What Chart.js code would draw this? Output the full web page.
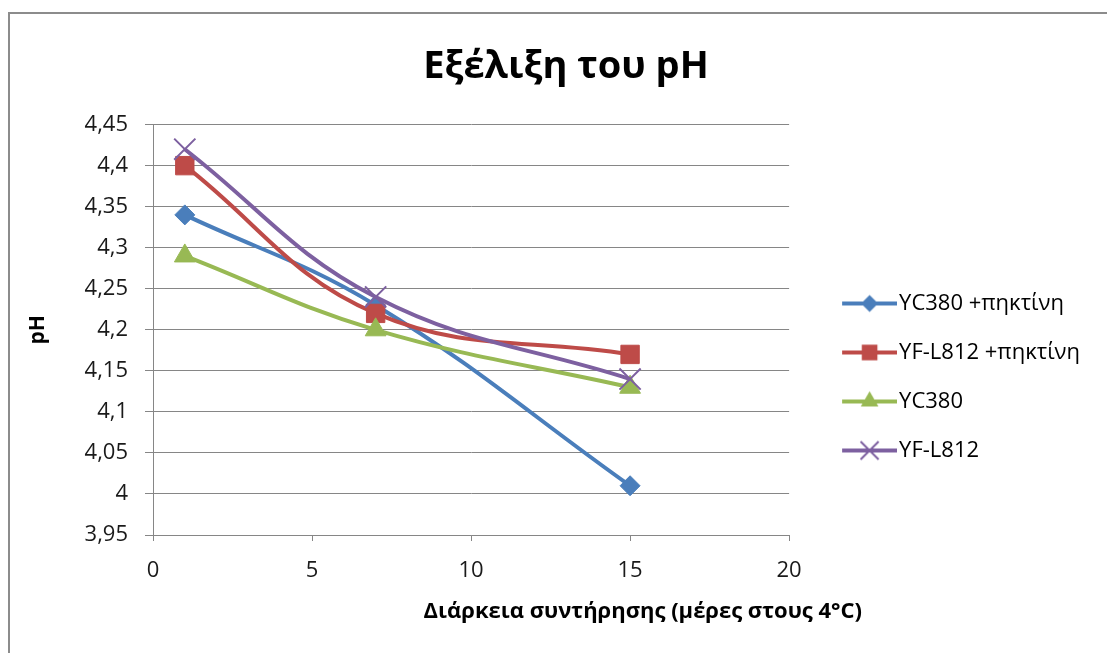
<!DOCTYPE html>
<html>
<head>
<meta charset="utf-8">
<title>Εξέλιξη του pH</title>
<script src="https://cdn.jsdelivr.net/npm/chart.js@4.4.1/dist/chart.umd.min.js"></script>
<style>
  html, body { margin: 0; padding: 0; background: #fff; width: 1107px; height: 653px; overflow: hidden; }
  #frame {
    position: absolute; left: 8px; top: 12px; width: 1200px; height: 800px;
    border-left: 2px solid #8c8c8c; border-top: 2px solid #8c8c8c;
  }
  #chart { position: absolute; left: 0; top: 0; }
</style>
</head>
<body>
<div id="frame"><canvas id="chart"></canvas></div>
<script>
// Μετρήσεις pH ανά ημέρα συντήρησης
const days = [1, 7, 15];
const seriesNames = ["YC380 +πηκτίνη", "YF-L812 +πηκτίνη", "YC380", "YF-L812"];
const phYC380Pectin = [4.34, 4.23, 4.01];
const phYFL812Pectin = [4.40, 4.22, 4.17];
const phYC380 = [4.29, 4.20, 4.13];
const phYFL812 = [4.42, 4.24, 4.14];
const xRange = [0, 20, 5];        // min, max, βήμα
const yRange = [3.95, 4.45, 0.05];

const chartTitle = "Εξέλιξη του pH";
const xTitle = "Διάρκεια συντήρησης (μέρες στους 4°C)";
const yTitle = "pH";

const colors = ["#4A7EBB", "#BE4B48", "#98B954", "#7D60A0"];
const markers = ["rectRot", "rect", "triangle", "crossRot"];
const markerRadius = [10, 13, 12, 15];

const FONT = '"Open Sans", "DejaVu Sans", sans-serif';
const GRID = "#868686";

// διαστάσεις περιοχής σχεδίασης (σε συντεταγμένες καμβά)
const PLOT_LEFT = 143, PLOT_RIGHT = 779, PLOT_BOTTOM = 521;
const HEIGHT = 726;
const LEGEND_PAD = 27, LEGEND_FONT = 22, BOX_W = 72;
const LEGEND_EXTRA = 10;   // το Chart.js προσθέτει 10px στο κάθετο υπόμνημα
const ICON_W = BOX_W + 18, ICON_H = 32;

function drawMarker(g, style, cx, cy, r) {
  g.beginPath();
  if (style === "rectRot") {
    g.moveTo(cx, cy - r); g.lineTo(cx + r, cy); g.lineTo(cx, cy + r); g.lineTo(cx - r, cy);
    g.closePath(); g.fill();
  } else if (style === "rect") {
    const s = r * Math.SQRT1_2;
    g.fillRect(cx - s, cy - s, 2 * s, 2 * s);
  } else if (style === "triangle") {
    g.moveTo(cx, cy - r); g.lineTo(cx + 0.866 * r, cy + 0.5 * r); g.lineTo(cx - 0.866 * r, cy + 0.5 * r);
    g.closePath(); g.fill();
  } else {
    const d = r * Math.SQRT1_2;
    g.lineWidth = 2;
    g.moveTo(cx - d, cy - d); g.lineTo(cx + d, cy + d);
    g.moveTo(cx + d, cy - d); g.lineTo(cx - d, cy + d);
    g.stroke();
  }
}

// εικονίδιο υπομνήματος: γραμμή με σημάδι στη μέση
function legendIcon(i) {
  const c = document.createElement("canvas");
  c.width = ICON_W; c.height = ICON_H;
  const g = c.getContext("2d");
  const cy = ICON_H / 2, x0 = ICON_W - 55;
  g.strokeStyle = colors[i]; g.fillStyle = colors[i];
  g.lineWidth = 4;
  g.beginPath(); g.moveTo(x0, cy); g.lineTo(ICON_W, cy); g.stroke();
  drawMarker(g, markers[i], x0 + 27.5, cy, markerRadius[i] * 0.85);
  return c;
}

const xTitlePlugin = {
  id: "xTitle",
  afterDraw(chart) {
    const { ctx, chartArea } = chart;
    ctx.save();
    ctx.font = "bold 22px " + FONT;
    ctx.fillStyle = "#000";
    ctx.textAlign = "center";
    ctx.textBaseline = "middle";
    ctx.fillText(xTitle, chartArea.left + 0.77 * (chartArea.right - chartArea.left), chartArea.bottom + 77);
    ctx.restore();
  }
};

const fmt = v => parseFloat(Number(v).toFixed(2)).toString().replace(".", ",");

function buildChart() {
  // πλάτος καμβά ώστε το υπόμνημα να τελειώνει στο δεξί άκρο
  const measure = document.createElement("canvas").getContext("2d");
  measure.font = LEGEND_FONT + "px " + FONT;
  const textW = Math.max(...seriesNames.map(n => measure.measureText(n).width));
  const WIDTH = Math.round(PLOT_RIGHT + LEGEND_PAD + BOX_W + LEGEND_FONT / 2 + textW + LEGEND_EXTRA);
  const padLeft = 1112 - WIDTH;

  const icons = seriesNames.map((_, i) => legendIcon(i));
  const seriesValues = [phYC380Pectin, phYFL812Pectin, phYC380, phYFL812];
  const datasets = seriesNames.map((name, i) => ({
    label: name,
    data: days.map((d, k) => ({ x: d, y: seriesValues[i][k] })),
    borderColor: colors[i],
    backgroundColor: colors[i],
    borderWidth: 4,
    tension: 0.4,
    pointStyle: markers[i],
    pointRadius: markerRadius[i],
    pointBorderWidth: markers[i] === "crossRot" ? 2 : 1,
    pointBorderColor: colors[i],
    pointBackgroundColor: colors[i],
    order: seriesNames.length - i
  }));

  const canvas = document.getElementById("chart");
  canvas.width = WIDTH;
  canvas.height = HEIGHT;

  new Chart(canvas.getContext("2d"), {
    type: "line",
    data: { datasets },
    options: {
      responsive: false,
      animation: false,
      events: [],
      layout: { padding: { left: padLeft, right: 0, top: 0, bottom: 0 } },
      plugins: {
        title: {
          display: true,
          text: chartTitle,
          color: "#000",
          font: { family: FONT, size: 38, weight: "bold" },
          padding: { top: 30, bottom: 35 }
        },
        legend: {
          position: "right",
          align: "center",
          maxWidth: 500,
          labels: {
            usePointStyle: true,
            pointStyleWidth: BOX_W,
            padding: LEGEND_PAD,
            color: "#000",
            font: { family: FONT, size: LEGEND_FONT },
            generateLabels(chart) {
              const items = Chart.defaults.plugins.legend.labels.generateLabels(chart);
              items.sort((a, b) => a.datasetIndex - b.datasetIndex);
              items.forEach(it => { it.pointStyle = icons[it.datasetIndex]; });
              return items;
            }
          }
        },
        tooltip: { enabled: false }
      },
      scales: {
        x: {
          type: "linear",
          min: xRange[0],
          max: xRange[1],
          ticks: { stepSize: xRange[2], padding: 17, color: "#1a1a1a", font: { family: FONT, size: 22 } },
          grid: { drawOnChartArea: false, drawTicks: true, tickLength: 6, color: GRID },
          border: { display: true, color: GRID },
          afterFit(scale) { scale.height = HEIGHT - PLOT_BOTTOM; }
        },
        y: {
          type: "linear",
          min: yRange[0],
          max: yRange[1],
          ticks: { stepSize: yRange[2], padding: 17, color: "#1a1a1a", font: { family: FONT, size: 22 }, callback: fmt },
          grid: { color: GRID, tickLength: 8 },
          border: { display: true, color: GRID },
          title: {
            display: true,
            text: yTitle,
            color: "#000",
            font: { family: FONT, size: 21, weight: "bold" },
            padding: { top: 28 - padLeft - 12.6, bottom: 0 }
          },
          afterFit(scale) { scale.width = PLOT_LEFT - padLeft; }
        }
      }
    },
    plugins: [xTitlePlugin]
  });
}

Promise.all([
  document.fonts.load(LEGEND_FONT + 'px "Open Sans"', "YF-L812 +πηκτίνη"),
  document.fonts.load('bold 38px "Open Sans"', chartTitle)
]).then(buildChart, buildChart);
</script>
</body>
</html>
